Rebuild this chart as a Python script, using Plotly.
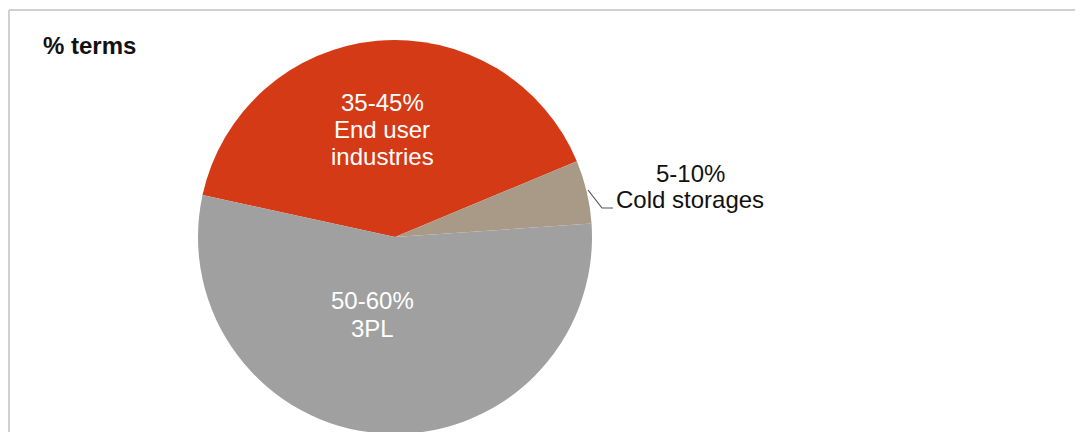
import plotly.graph_objects as go

# Data
segments = ["End user industries", "Cold storages", "3PL"]
shares = [40.3, 5.2, 54.5]
range_labels = ["35-45%", "5-10%", "50-60%"]
label_lines = ["End user<br>industries", "Cold storages", "3PL"]
colors = ["#D53A16", "#A89A86", "#A0A0A0"]
title_text = "% terms"

W, H = 1083, 432
FONT = "Liberation Sans, Arial, sans-serif"

# Pie geometry (figure pixels)
CX, CY, R = 387, 229, 197

fig = go.Figure()
fig.add_trace(go.Pie(
    labels=segments,
    values=shares,
    sort=False,
    direction="clockwise",
    rotation=-77.7,
    marker=dict(colors=colors, line=dict(width=0)),
    textinfo="none",
    hoverinfo="label+percent",
    showlegend=False,
    domain=dict(x=[(CX - 210) / W, (CX + 210) / W],
                y=[(H - (CY + R)) / H, (H - (CY - R)) / H]),
))

# Labels: (x centre, first line y, line spacing, colour)
label_pos = [(374, 94, 27, "white"), (682, 165.5, 26, "#111111"), (364, 292, 28, "white")]
for rng, name, (x, y0, dy, c) in zip(range_labels, label_lines, label_pos):
    lines = f"{rng}<br>{name}".split("<br>")
    for i, ln in enumerate(lines):
        fig.add_annotation(
            x=x, y=y0 + i * dy, xref="x", yref="y",
            text=ln, showarrow=False,
            font=dict(family=FONT, size=24, color=c),
            align="center", xanchor="center", yanchor="middle",
        )

# Title
fig.add_annotation(
    x=33, y=37, xref="x", yref="y", text=f"<b>{title_text}</b>",
    showarrow=False, xanchor="left", yanchor="middle",
    font=dict(family=FONT, size=24, color="#111111"),
)

# Leader line for the small slice
fig.add_shape(type="path", xref="x", yref="y",
              path="M 580,182 L 594,200 L 605,200",
              line=dict(color="#555555", width=1.2))

# Frame
fig.add_shape(type="line", xref="x", yref="y", x0=1, y0=2, x1=W, y1=2,
              line=dict(color="#D0D0D0", width=2))
fig.add_shape(type="line", xref="x", yref="y", x0=1, y0=2, x1=1, y1=H,
              line=dict(color="#D0D0D0", width=2))

fig.update_layout(
    width=W, height=H,
    margin=dict(l=0, r=0, t=0, b=0),
    paper_bgcolor="white", plot_bgcolor="rgba(0,0,0,0)",
    xaxis=dict(range=[0, W], visible=False, fixedrange=True),
    yaxis=dict(range=[H, 0], visible=False, fixedrange=True),
    font=dict(family=FONT),
)

fig.write_html("out.html")
